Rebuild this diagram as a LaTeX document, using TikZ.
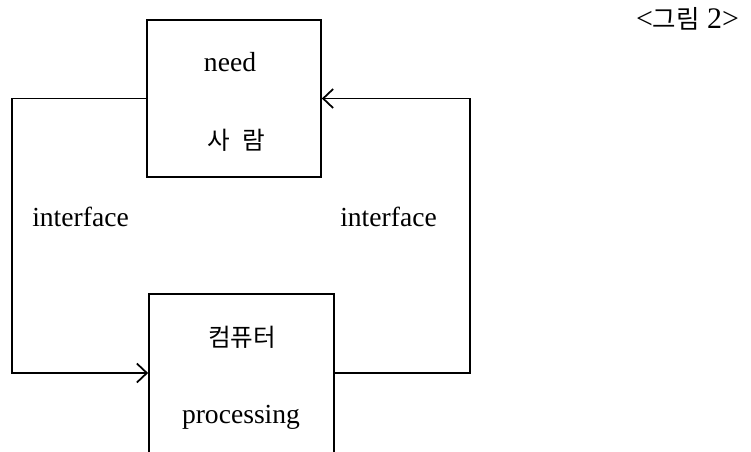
\documentclass[tikz,border=0pt]{standalone}
\usepackage{fontspec}
\setmainfont{Liberation Serif}
\newfontfamily\kor{Noto Sans CJK KR}
\usetikzlibrary{arrows.meta,positioning}
\begin{document}
\begin{tikzpicture}[x=0.02cm,y=-0.02cm,
  box/.style={draw,line width=1pt,inner sep=0pt},
  txt/.style={inner sep=0pt,font=\fontsize{15.7}{18}\selectfont},
  hangul/.style={inner sep=0pt,font=\kor\fontsize{14}{16}\selectfont},
  flow/.style={line width=1pt,-{Straight Barb[length=2mm,width=3.8mm,line width=1pt]}}]
\useasboundingbox (0,0) rectangle (751,451) ;
\clip (0,0) rectangle (751,451) ;
% the two boxes, the lower one runs off the bottom edge
\node[box,minimum width=3.48cm,minimum height=3.14cm] (saram) at (234,98.5) {} ;
\node[box,minimum width=3.7cm,minimum height=3.8cm]  (computer) at (241.5,389) {} ;
\node[txt]    (need)       at (230,62)  {need} ;
\node[hangul] (saramtxt)   at (236,140) {사\hspace{0.5em}람} ;
\node[hangul] (comptxt)    at (242,337) {컴퓨터} ;
\node[txt]    (processing) at (241,417) {processing} ;
% feedback loop
\coordinate (lcorner) at (12,373) ;
\coordinate (rcorner) at (470,98.5) ;
\draw[flow] (saram.west) -| (lcorner) -- (computer.west |- lcorner) ;
\draw[flow] (computer.east |- lcorner) -| (rcorner) -- (saram.east) ;
\node[txt] (ifleft)  at (80.5,217)  {interface} ;
\node[txt] (ifright) at (388.5,217) {interface} ;
\node[txt,font=\fontsize{17}{19}\selectfont] (caption) at (687.5,19) {<{\kor\fontsize{14.5}{16}\selectfont 그림} 2>} ;
\end{tikzpicture}
\end{document}
